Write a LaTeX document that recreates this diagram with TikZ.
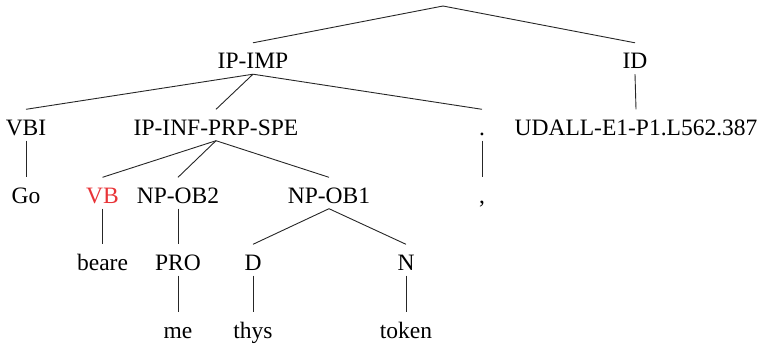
\documentclass[tikz,border=0pt]{standalone}
\usepackage{fontspec}
\setmainfont{Liberation Serif}
\definecolor{vbred}{RGB}{232,52,56}
\begin{document}
\begin{tikzpicture}[x=1pt,y=-1pt,
  lbl/.style={anchor=base,inner xsep=0pt,inner ysep=0pt,text height=25.5pt,text depth=5.5pt,
    font=\fontsize{23.5}{27}\selectfont},
  edge/.style={line width=0.9pt,black!85}]
\useasboundingbox (0,0) rectangle (757,346);
\coordinate (root) at (443,6);
% level 1
\node[lbl] (ipimp) at (253,68.5) {IP-IMP};
\node[lbl] (id) at (635,68.5) {ID};
% level 2
\node[lbl] (vbi) at (26,135) {VBI};
\node[lbl] (ipinf) at (216,135) {IP-INF-PRP-SPE};
\node[lbl] (dot) at (482,135) {.};
\node[lbl] (udall) at (636,135) {UDALL-E1-P1.L562.387};
% level 3
\node[lbl] (go) at (26,203) {Go};
\node[lbl,text=vbred] (vb) at (102.5,203) {VB};
\node[lbl] (npob2) at (178,203) {NP-OB2};
\node[lbl] (npob1) at (329,203) {NP-OB1};
\node[lbl] (comma) at (482,203) {,};
% level 4
\node[lbl] (beare) at (102.5,270) {beare};
\node[lbl] (pro) at (178,270) {PRO};
\node[lbl] (d) at (253,270) {D};
\node[lbl] (n) at (406,270) {N};
% level 5
\node[lbl] (me) at (178,338) {me};
\node[lbl] (thys) at (253,338) {thys};
\node[lbl] (token) at (406,338) {token};
% edges
\draw[edge] (root) -- (ipimp.north);
\draw[edge] (root) -- (id.north);
\draw[edge] (ipimp.south) -- (vbi.north);
\draw[edge] (ipimp.south) -- (ipinf.north);
\draw[edge] (ipimp.south) -- (dot.north);
\draw[edge] (id.south) -- (udall.north);
\draw[edge] (vbi.south) -- (go.north);
\draw[edge] (ipinf.south) -- (vb.north);
\draw[edge] (ipinf.south) -- (npob2.north);
\draw[edge] (ipinf.south) -- (npob1.north);
\draw[edge] (dot.south) -- (comma.north);
\draw[edge] (vb.south) -- (beare.north);
\draw[edge] (npob2.south) -- (pro.north);
\draw[edge] (npob1.south) -- (d.north);
\draw[edge] (npob1.south) -- (n.north);
\draw[edge] (pro.south) -- (me.north);
\draw[edge] (d.south) -- (thys.north);
\draw[edge] (n.south) -- (token.north);
\end{tikzpicture}
\end{document}
